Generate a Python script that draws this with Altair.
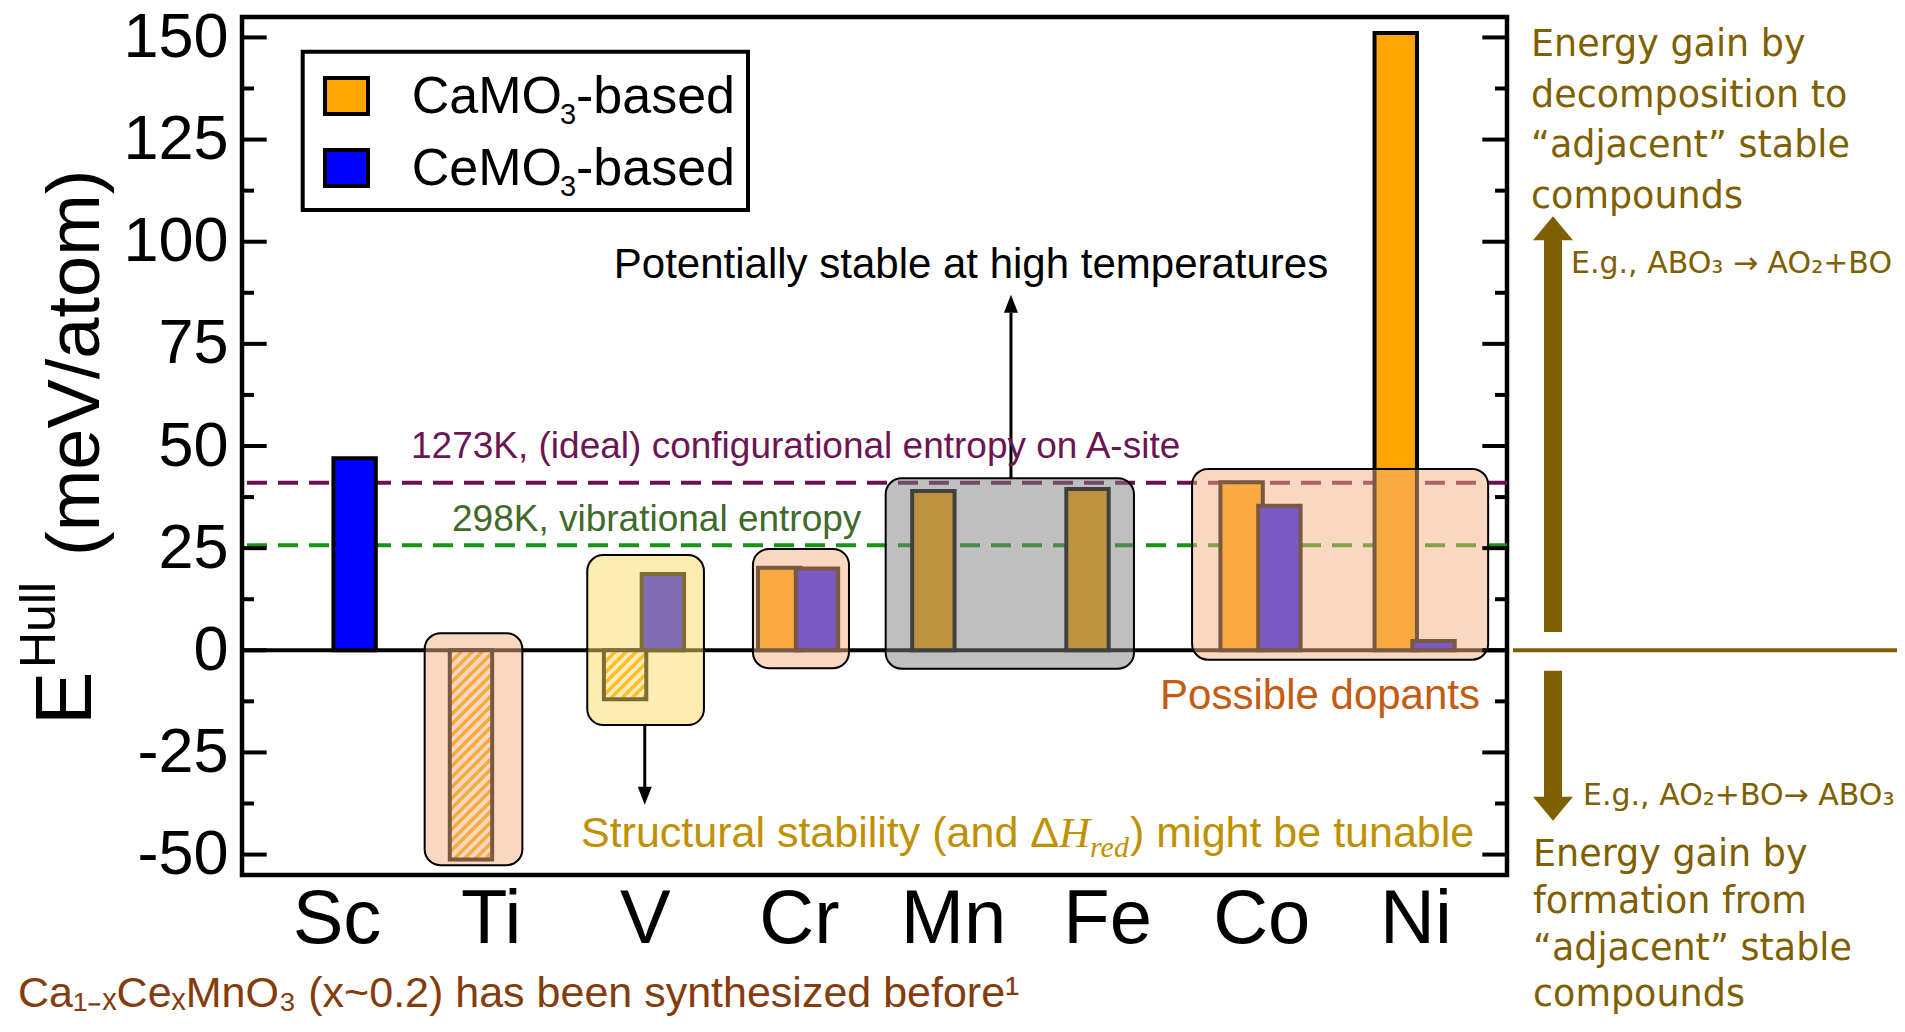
import altair as alt
import pandas as pd

# ---------------- data ----------------
elements = ["Sc", "Ti", "V", "Cr", "Mn", "Fe", "Co", "Ni"]
ca_values = [None, -51.2, -12.0, 20.2, 39.0, 39.5, 41.1, 151.1]   # CaMO3-based
ce_values = [47.0, None, 18.7, 20.0, None, None, 35.4, 2.3]       # CeMO3-based
ca_hatched = ["Ti", "V"]

y_major = [-50, -25, 0, 25, 50, 75, 100, 125, 150]
y_minor = [-37.5, -12.5, 12.5, 37.5, 62.5, 87.5, 112.5, 137.5]

entropy_levels = [41.0, 25.7]
entropy_colors = ["#6B1150", "#149614"]

# highlight boxes (x in category units, y in meV/atom)
box_x1 = [1.572, 2.627, 3.702, 4.563, 6.551]
box_x2 = [2.206, 3.384, 4.325, 6.174, 8.472]
box_y1 = [-52.6, -18.3, -4.4, -4.5, -2.3]
box_y2 = [4.2, 23.3, 24.8, 42.1, 44.4]
box_colors = ["#F4B183", "#FFD966", "#F4B183", "#7F7F7F", "#F4B183"]

# ---------------- layout ----------------
W, H = 1265, 858
X_DOM = [0.3869, 8.5943]
Y_DOM = [-55, 155]
PX_X = W / (X_DOM[1] - X_DOM[0])
PX_Y = H / (Y_DOM[1] - Y_DOM[0])
CA_OFF = (-0.265, 0.01)
CE_OFF = (-0.02, 0.255)

SANS = "Liberation Sans, Arial, Helvetica, sans-serif"
WIDE = "DejaVu Sans, Verdana, sans-serif"
SERIF = "Liberation Serif, Times New Roman, serif"
OLIVE = "#7F6000"

xs = alt.Scale(domain=X_DOM, nice=False, zero=False)
ys = alt.Scale(domain=Y_DOM, nice=False, zero=False)
label_expr = "[" + ",".join("'%s'" % e for e in elements) + "][round(datum.value)-1]"
x_axis = alt.Axis(values=list(range(1, len(elements) + 1)), labelExpr=label_expr,
                  labelFontSize=76, labelFont=SANS, labelColor="black", labelPadding=7,
                  ticks=False, tickSize=0, domain=False, grid=False, title=None,
                  labelFlush=False, labelOverlap=False)
y_axis = alt.Axis(values=y_major, labelFontSize=63, labelFont=SANS, labelColor="black",
                  labelExpr="datum.value < 0 ? '-' + abs(datum.value) : '' + datum.value",
                  labelPadding=14, ticks=False, tickSize=0, domain=False, grid=False,
                  title=None, labelFlush=False, labelOverlap=False)


def X(f):
    return alt.X(f, type="quantitative", scale=xs, axis=x_axis, title=None)


def Y(f):
    return alt.Y(f, type="quantitative", scale=ys, axis=y_axis, title=None)


# bar table
rows = []
for i, e in enumerate(elements):
    c = i + 1
    if ca_values[i] is not None:
        rows.append(dict(el=e, series="Ca", lo=c + CA_OFF[0], hi=c + CA_OFF[1], v=ca_values[i],
                         hatch=e in ca_hatched))
    if ce_values[i] is not None:
        rows.append(dict(el=e, series="Ce", lo=c + CE_OFF[0], hi=c + CE_OFF[1], v=ce_values[i],
                         hatch=False))
bars = pd.DataFrame(rows)
bars["zero"] = 0.0

fill_scale = alt.Scale(domain=["Ca", "Ce"], range=["#FFA500", "#0000FF"])

plain = alt.Chart(bars[~bars["hatch"]]).mark_rect(stroke="black", strokeWidth=4).encode(
    x=X("lo"), x2="hi", y=Y("zero"), y2="v",
    fill=alt.Fill("series:N", scale=fill_scale, legend=None))


def hatch(w, h, col_a, col_b, period=10.5, frac=0.5):
    lam = (w + h) / (w * w + h * h)
    n = (w + h) / period
    stops = []
    k = 0
    while k < n:
        a = k / n
        b = min((k + frac) / n, 1.0)
        c = min((k + 1) / n, 1.0)
        stops += [(a, col_a), (b, col_a), (b, col_b), (c, col_b)]
        k += 1
    return alt.LinearGradient(
        gradient="linear",
        stops=[alt.GradientStop(offset=round(o, 5), color=col) for o, col in stops],
        x1=0, y1=0, x2=round(lam * w, 5), y2=round(lam * h, 5))


hatched_layers = []
for _, r in bars[bars["hatch"]].iterrows():
    w = (r["hi"] - r["lo"]) * PX_X
    h = abs(r["v"]) * PX_Y
    g = hatch(w, h, "#FFA500", "#FFFFFF")
    sub = bars[(bars["el"] == r["el"]) & (bars["series"] == "Ca")]
    hatched_layers.append(
        alt.Chart(sub).mark_rect(fill=g, stroke="black", strokeWidth=4).encode(
            x=X("lo"), x2="hi", y=Y("zero"), y2="v"))

# lines
lines_df = pd.DataFrame({"v": entropy_levels, "c": entropy_colors})
dashed = alt.Chart(lines_df).mark_rule(strokeDash=[20, 11], strokeWidth=4).encode(
    y=Y("v"), color=alt.Color("c:N", scale=None))
zero_df = pd.DataFrame({"v": [0.0]})
zero_line = alt.Chart(zero_df).mark_rule(color="black", strokeWidth=4).encode(y=Y("v"))

# boxes
boxes = pd.DataFrame({"x1": box_x1, "x2": box_x2, "y1": box_y1, "y2": box_y2, "c": box_colors})
box_layer = alt.Chart(boxes).mark_rect(cornerRadius=16, fillOpacity=0.5, stroke="black",
                                       strokeWidth=2).encode(
    x=X("x1"), x2="x2", y=Y("y1"), y2="y2", fill=alt.Fill("c:N", scale=None))

# ticks
maj = pd.DataFrame({"v": y_major})
mnr = pd.DataFrame({"v": y_minor})
tick_layers = [
    alt.Chart(maj).mark_rule(color="black", strokeWidth=4).encode(y=Y("v"), x=alt.value(0), x2=alt.value(24.7)),
    alt.Chart(mnr).mark_rule(color="black", strokeWidth=4).encode(y=Y("v"), x=alt.value(0), x2=alt.value(12)),
    alt.Chart(maj).mark_rule(color="black", strokeWidth=4).encode(y=Y("v"), x=alt.value(W - 24.7), x2=alt.value(W)),
    alt.Chart(mnr).mark_rule(color="black", strokeWidth=4).encode(y=Y("v"), x=alt.value(W - 12), x2=alt.value(W)),
]

# black arrows inside the plot
arr = pd.DataFrame({"x": [5.376, 3.0], "y1": [42.1, -18.3], "y2": [82.6, -33.5],
                    "hy": [84.8, -35.6], "dir": ["up", "down"]})
arrow_shafts = alt.Chart(arr).mark_rule(color="black", strokeWidth=3).encode(
    x=X("x"), y=Y("y1"), y2="y2")
head_up = alt.Chart(arr[arr["dir"] == "up"]).mark_point(
    shape="M-0.39,0.5L0,-0.5L0.39,0.5Z", filled=True, size=1296, color="black", opacity=1).encode(
    x=X("x"), y=Y("hy"))
head_down = alt.Chart(arr[arr["dir"] == "down"]).mark_point(
    shape="M-0.39,-0.5L0,0.5L0.39,-0.5Z", filled=True, size=1296, color="black", opacity=1).encode(
    x=X("x"), y=Y("hy"))

# right-hand olive arrows and baseline
olive_base = alt.Chart(zero_df).mark_rule(color=OLIVE, strokeWidth=4).encode(
    y=Y("v"), x=alt.value(1271), x2=alt.value(1655))
big = pd.DataFrame({"y1": [4.5, -5.0], "y2": [100.4, -35.9], "hy": [103.3, -38.8], "dir": ["up", "down"]})
big_shafts = alt.Chart(big).mark_rule(color=OLIVE, strokeWidth=18).encode(
    x=alt.value(1311), y=Y("y1"), y2="y2")
big_up = alt.Chart(big[big["dir"] == "up"]).mark_point(
    shape="M-1,0.6L0,-0.6L1,0.6Z", filled=True, size=1600, color=OLIVE, opacity=1).encode(
    x=alt.value(1311), y=Y("hy"))
big_down = alt.Chart(big[big["dir"] == "down"]).mark_point(
    shape="M-1,-0.6L0,0.6L1,-0.6Z", filled=True, size=1600, color=OLIVE, opacity=1).encode(
    x=alt.value(1311), y=Y("hy"))

one = pd.DataFrame({"k": [0]})


def txt(text, x, y, size, color="black", font=SANS, align="left", baseline="middle",
        angle=0, style="normal"):
    return alt.Chart(one).mark_text(text=text, align=align, baseline=baseline, fontSize=size,
                                    color=color, font=font, angle=angle, fontStyle=style).encode(
        x=alt.value(x), y=alt.value(y))


texts = [
    txt("Potentially stable at high temperatures", 729, 248, 42, align="center"),
    txt("1273K, (ideal) configurational entropy on A-site", 169, 430, 37, color="#6B1553"),
    txt("298K, vibrational entropy", 210, 503, 37, color="#3F6A2A"),
    txt("Possible dopants", 1238, 679, 42, color="#C55A11", align="right"),
    txt("Structural stability (and \u0394", 817, 830, 43, color="#BF9000", align="right", baseline="alphabetic"),
    txt("H", 817, 830, 43, color="#BF9000", font=SERIF, style="italic", baseline="alphabetic"),
    txt("red", 848, 840, 30, color="#BF9000", font=SERIF, style="italic", baseline="alphabetic"),
    txt(") might be tunable", 888, 830, 43, color="#BF9000", baseline="alphabetic"),
    txt("Ca\u2081\u208B\u2093Ce\u2093MnO\u2083 (x~0.2) has been synthesized before\u00B9", -224, 990, 43,
        color="#843C0C", baseline="alphabetic"),
    # y-axis title
    txt("E", -151, 708, 80, angle=270, baseline="alphabetic"),
    txt("Hull", -187, 651, 50, angle=270, baseline="alphabetic"),
    txt("(meV/atom)", -143, 539, 74, angle=270, baseline="alphabetic"),
    # right side
    txt("Energy gain by", 1289, 28, 36.5, color=OLIVE, font=WIDE),
    txt("decomposition to", 1289, 79, 36.5, color=OLIVE, font=WIDE),
    txt("\u201Cadjacent\u201D stable", 1289, 129, 36.5, color=OLIVE, font=WIDE),
    txt("compounds", 1289, 180, 36.5, color=OLIVE, font=WIDE),
    txt("E.g., ABO\u2083 \u2192 AO\u2082+BO", 1329, 247, 30, color=OLIVE, font=WIDE),
    txt("E.g., AO\u2082+BO\u2192 ABO\u2083", 1341, 779, 30, color=OLIVE, font=WIDE),
    txt("Energy gain by", 1291, 838, 36.5, color=OLIVE, font=WIDE),
    txt("formation from", 1291, 885, 36.5, color=OLIVE, font=WIDE),
    txt("\u201Cadjacent\u201D stable", 1291, 932, 36.5, color=OLIVE, font=WIDE),
    txt("compounds", 1291, 978, 36.5, color=OLIVE, font=WIDE),
]

# legend (drawn by hand because of the subscripts)
legend_frame = alt.Chart(one).mark_rect(fill="white", stroke="black", strokeWidth=4).encode(
    x=alt.value(60.7), x2=alt.value(506), y=alt.value(34.7), y2=alt.value(193))
legend_items = []
for name, col, top, base in [("Ca", "#FFA500", 61, 95.7), ("Ce", "#0000FF", 133, 167.7)]:
    legend_items.append(alt.Chart(one).mark_rect(fill=col, stroke="black", strokeWidth=4).encode(
        x=alt.value(83), x2=alt.value(126), y=alt.value(top), y2=alt.value(top + 36)))
    legend_items.append(txt(name + "MO", 169.7, base, 52, baseline="alphabetic"))
    legend_items.append(txt("3", 318, base + 11.5, 29, baseline="alphabetic"))
    legend_items.append(txt("-based", 334, base, 52, baseline="alphabetic"))

chart = alt.layer(
    dashed, zero_line, plain, *hatched_layers, box_layer, *tick_layers,
    arrow_shafts, head_up, head_down, olive_base, big_shafts, big_up, big_down,
    legend_frame, *legend_items, *texts
).properties(
    width=W, height=H,
    padding={"left": 234, "top": 9, "right": 390, "bottom": 143},
    autosize=alt.AutoSizeParams(type="none"),
).configure(font=SANS).configure_view(stroke="black", strokeWidth=4.5)

chart.save("out.html", embed_options={"renderer": "svg", "actions": False})
